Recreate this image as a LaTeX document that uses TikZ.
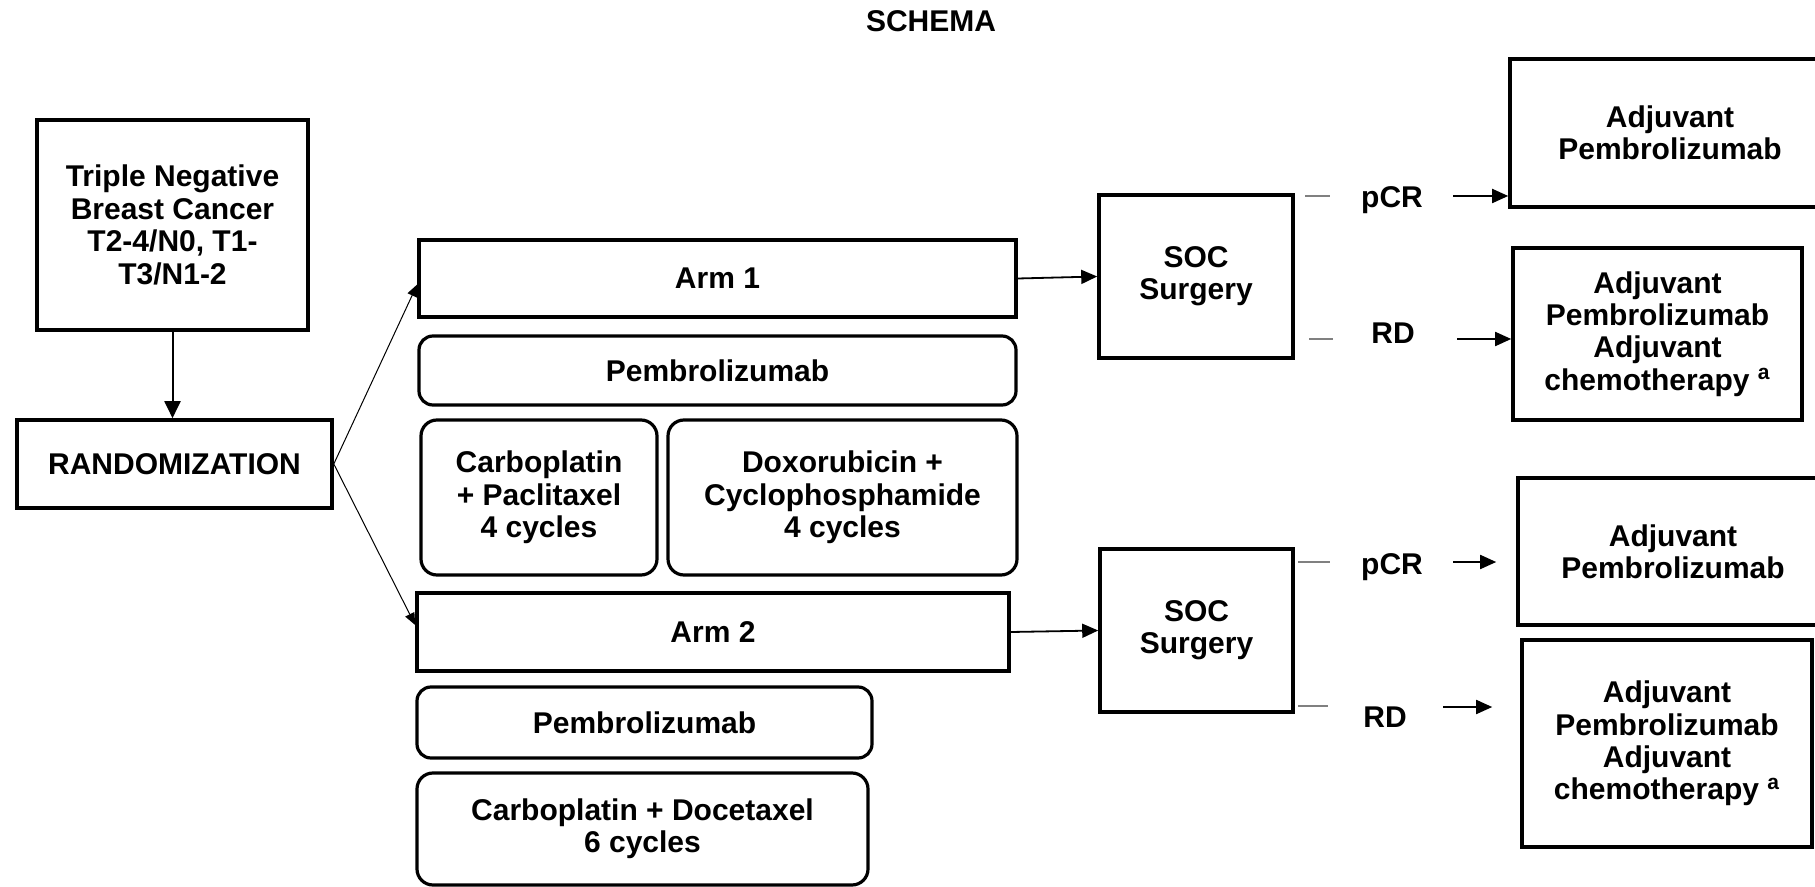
\documentclass[tikz,border=0pt]{standalone}
\usepackage{fontspec}
\setmainfont{Liberation Sans}
\usetikzlibrary{arrows.meta}
\begin{document}
\begin{tikzpicture}[x=0.5pt,y=-0.5pt,
  txt/.style={font=\fontsize{15pt}{16.2pt}\selectfont\bfseries, align=center, inner sep=0pt},
  sqbox/.style={txt, draw, line width=1.8pt, rectangle},
  rbox/.style={txt, draw, line width=1.6pt, rounded corners=8pt},
  arr/.style={line width=0.9pt, -{Triangle[length=8pt,width=7pt]}},
  thinarr/.style={line width=0.5pt, -{Triangle[length=6pt,width=5pt]}},
  stub/.style={line width=1pt, draw=gray}
]
\useasboundingbox (0,0) rectangle (1815,887);

% title
\node[txt] (title) at (931,21) {SCHEMA};

% entry and randomization
\node[sqbox, minimum width=135.5pt, minimum height=105pt] (triple) at (172.5,225)
  {Triple Negative\\Breast Cancer\\T2-4/N0, T1-\\T3/N1-2};
\node[sqbox, minimum width=157.5pt, minimum height=44pt] (rand) at (174.5,464) {RANDOMIZATION};

% arm 1
\node[sqbox, minimum width=298.5pt, minimum height=38.5pt] (arm1) at (717.5,278.5) {Arm 1};
\node[rbox, rounded corners=7pt, minimum width=298.5pt, minimum height=34.5pt] (pem1) at (717.5,370.5) {Pembrolizumab};
\node[rbox, minimum width=118pt, minimum height=77.5pt] (cp) at (539,497.5) {Carboplatin\\+ Paclitaxel\\4 cycles};
\node[rbox, minimum width=174.5pt, minimum height=77.5pt] (dox) at (842.5,497.5) {Doxorubicin +\\Cyclophosphamide\\4 cycles};

% arm 2
\node[sqbox, minimum width=296pt, minimum height=39pt] (arm2) at (713,632) {Arm 2};
\node[rbox, rounded corners=7pt, minimum width=227.5pt, minimum height=35.5pt] (pem2) at (644.5,722.5) {Pembrolizumab};
\node[rbox, minimum width=225.5pt, minimum height=56pt] (cd) at (642.5,829) {Carboplatin + Docetaxel\\6 cycles};

% surgery
\node[sqbox, minimum width=97pt, minimum height=81.5pt] (soc1) at (1196,276.5) {SOC\\Surgery};
\node[sqbox, minimum width=96.5pt, minimum height=81.5pt] (soc2) at (1196.5,630.5) {SOC\\Surgery};

% adjuvant treatment
\node[sqbox, minimum width=160pt, minimum height=74pt] (ap1) at (1670,133) {Adjuvant\\Pembrolizumab};
\node[sqbox, minimum width=144.5pt, minimum height=86pt] (apc1) at (1657.5,334)
  {Adjuvant\\Pembrolizumab\\Adjuvant\\chemotherapy \textsuperscript{a}};
\node[sqbox, minimum width=155pt, minimum height=73.5pt] (ap2) at (1673,551.5) {Adjuvant\\Pembrolizumab};
\node[sqbox, minimum width=145pt, minimum height=103.5pt] (apc2) at (1667,743.5)
  {Adjuvant\\Pembrolizumab\\Adjuvant\\chemotherapy \textsuperscript{a}};

% outcome labels
\node[txt] (pcr1) at (1392,200) {pCR};
\node[txt] (rd1) at (1393,333) {RD};
\node[txt] (pcr2) at (1392,567) {pCR};
\node[txt] (rd2) at (1385,717) {RD};

% connectors
\draw[line width=1pt, -{Triangle[length=8.5pt,width=8pt]}] (triple.south) -- (triple.south |- rand.north);
\draw[thinarr] (rand.east) -- ([yshift=-3pt]arm1.west);
\draw[thinarr] (rand.east) -- ([yshift=3.5pt]arm2.west);
\draw[arr] (arm1.east) -- (soc1.west);
\draw[arr] (arm2.east) -- (soc2.west);

% outcome branches: short stub, label, arrow
\coordinate (s1a) at (1305,196); \coordinate (s1b) at (1330,196);
\coordinate (s2a) at (1309,339); \coordinate (s2b) at (1333,339);
\coordinate (s3a) at (1298,562); \coordinate (s3b) at (1330,562);
\coordinate (s4a) at (1298,706); \coordinate (s4b) at (1328,706);
\draw[stub] (s1a) -- (s1b);
\draw[stub] (s2a) -- (s2b);
\draw[stub] (s3a) -- (s3b);
\draw[stub] (s4a) -- (s4b);

\coordinate (a1) at (1453,196);
\coordinate (a2) at (1457,339);
\coordinate (a3) at (1453,562);
\coordinate (a4) at (1443,707);
\draw[arr] (a1) -- (a1 -| ap1.west);
\draw[arr] (a2) -- (a2 -| apc1.west);
\draw[arr] (a3) -- ([xshift=-10pt]a3 -| ap2.west);
\draw[arr] (a4) -- ([xshift=-14pt]a4 -| apc2.west);
\end{tikzpicture}
\end{document}
